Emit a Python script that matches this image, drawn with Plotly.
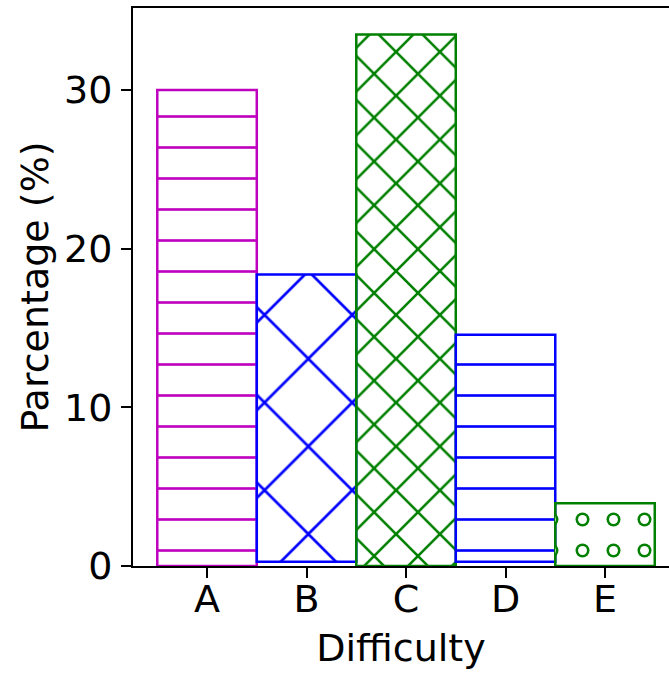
import plotly.graph_objects as go

categories = ["A", "B", "C", "D", "E"]
values = [30.0, 18.1, 33.5, 14.3, 3.95]
bases = [0.0, 0.27, 0.0, 0.27, 0.0]
colors = ["#BF00BF", "#0000FF", "#008000", "#0000FF", "#008000"]
hatches = ["-", "x", "x", "-", "."]
hatch_sizes = [31, 62, 31, 31, 31]
hatch_solidity = [0.085, 0.085, 0.16, 0.085, 0.16]

FONT = "DejaVu Sans"

fig = go.Figure()
fig.add_trace(go.Bar(
    x=categories, y=values, base=bases, width=1.0,
    marker=dict(
        color="rgba(0,0,0,0)",
        line=dict(color=colors, width=2.5),
        pattern=dict(shape=hatches, size=hatch_sizes, solidity=hatch_solidity,
                     fgcolor=colors, bgcolor="rgba(0,0,0,0)", fillmode="replace"),
    ),
    showlegend=False, hoverinfo="skip",
))
# inner white dots to make hollow circles for the 'o' hatch of E
ring_idx = [i for i, h in enumerate(hatches) if h == "."]
fig.add_trace(go.Bar(
    x=[categories[i] for i in ring_idx], y=[values[i] for i in ring_idx],
    base=[bases[i] for i in ring_idx], width=1.0,
    marker=dict(
        color="rgba(0,0,0,0)",
        line=dict(width=0),
        pattern=dict(shape=".", size=31, solidity=0.065,
                     fgcolor="white", bgcolor="rgba(0,0,0,0)", fillmode="replace"),
    ),
    showlegend=False, hoverinfo="skip",
))

fig.update_layout(
    width=669, height=677,
    margin=dict(l=133, r=0, t=8, b=111),
    paper_bgcolor="white", plot_bgcolor="white",
    barmode="overlay",
    font=dict(family=FONT, size=38, color="black"),
    xaxis=dict(
        type="category", categoryorder="array", categoryarray=categories,
        range=[-0.744, 4.643],
        showline=True, linecolor="black", linewidth=2, mirror=True,
        ticks="outside", ticklen=10, tickwidth=2, tickcolor="black",
        showgrid=False, zeroline=False,
        tickfont=dict(family=FONT, size=38),
        ticklabelstandoff=-12,
        title=dict(text="Difficulty", font=dict(family=FONT, size=38), standoff=15),
        automargin=False,
    ),
    yaxis=dict(
        range=[0, 35.17],
        tickvals=[0, 10, 20, 30],
        showline=True, linecolor="black", linewidth=2, mirror=False,
        ticks="outside", ticklen=10, tickwidth=2, tickcolor="black",
        showgrid=False, zeroline=False,
        tickfont=dict(family=FONT, size=38),
        ticklabelstandoff=1,
        title=dict(text="Parcentage (%)", font=dict(family=FONT, size=38), standoff=4),
        automargin=False,
    ),
)

fig.write_html("out.html", config={"displayModeBar": False},
               post_script="document.body.style.margin='0';")
